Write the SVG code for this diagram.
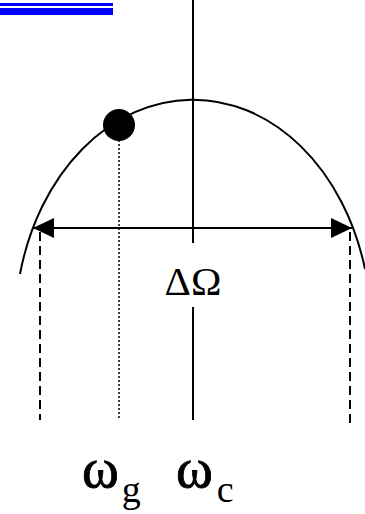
<svg xmlns="http://www.w3.org/2000/svg" width="365" height="514" viewBox="0 0 365 514">
<defs>
<style>
.ln{stroke:#000;fill:none;stroke-width:2}
.dash{stroke:#000;fill:none;stroke-width:2;stroke-dasharray:9 5}
.dot{stroke:#000;fill:none;stroke-width:1.5;stroke-dasharray:2 2}
.t{font-family:"Liberation Serif","Times New Roman",serif;fill:#000}
.w{stroke:#000;stroke-width:0.8}
.s{stroke:none}
</style>
<marker id="ah" viewBox="0 0 21 20" refX="21" refY="10" markerWidth="21" markerHeight="20" markerUnits="userSpaceOnUse" orient="auto-start-reverse">
<path d="M0 0 L21 10 L0 20 Z" fill="#000"/>
</marker>
</defs>
<rect x="0" y="3" width="113" height="3" fill="#0000ff"/>
<rect x="0" y="8" width="113" height="7" fill="#0000ff"/>
<g id="connectors">
<path id="curve" class="ln" d="M20 274 A178 228 0 0 1 365 269"/>
<line class="ln" x1="193" y1="0" x2="193" y2="243"/>
<line class="ln" x1="193" y1="307" x2="193" y2="420"/>
<line class="ln" x1="33" y1="228" x2="352" y2="228" marker-start="url(#ah)" marker-end="url(#ah)"/>
<line class="dash" x1="40" y1="232" x2="40" y2="420"/>
<line class="dash" x1="350" y1="232" x2="350" y2="425"/>
<line class="dot" x1="119" y1="140" x2="119" y2="420"/>
</g>
<g id="ball"><circle cx="119" cy="125" r="16" fill="#000"/></g>
<g id="delta"><text class="t" x="193" y="295" font-size="41" text-anchor="middle">ΔΩ</text></g>
<g id="omega-g"><text class="t w" x="82" y="487" font-size="56">ω<tspan class="s" font-size="38" dx="3" dy="15">g</tspan></text></g>
<g id="omega-c"><text class="t w" x="176" y="487" font-size="56">ω<tspan class="s" font-size="38" dx="4" dy="15">c</tspan></text></g>
</svg>
